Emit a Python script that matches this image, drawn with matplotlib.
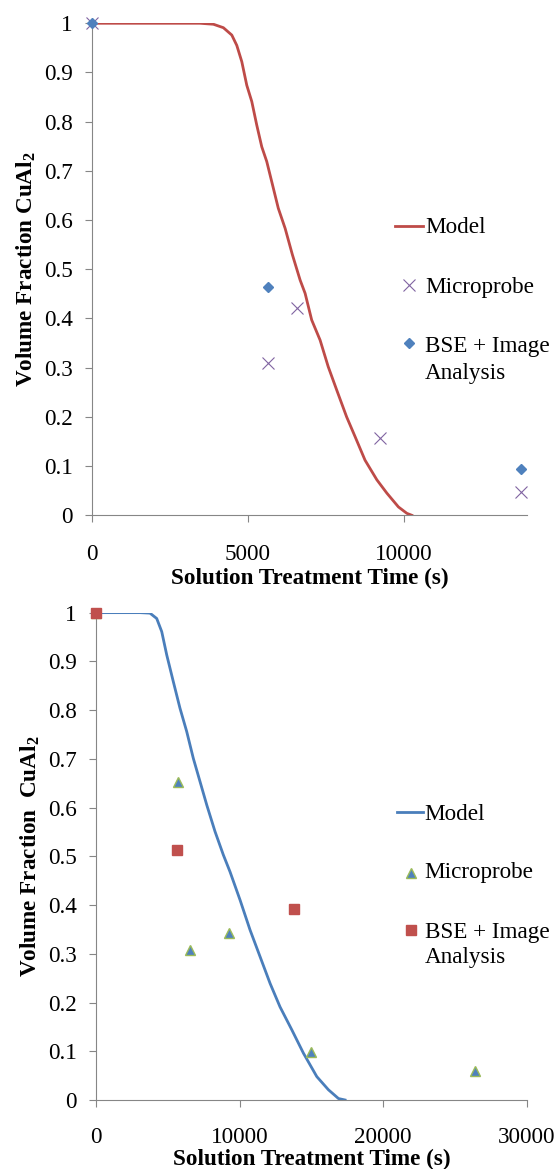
import matplotlib
matplotlib.use("Agg")
import matplotlib.pyplot as plt

# ---- data (time in s, volume fraction CuAl2) ----
top_model_t = [0, 3460, 3890, 4210, 4480, 4640, 4800, 4960, 5120, 5280, 5440,
               5600, 5760, 5970, 6190, 6420, 6670, 6830, 7040, 7310, 7570, 7840,
               8160, 8430, 8750, 9130, 9450, 9820, 10090, 10250]
top_model_f = [1.0, 1.0, 0.998, 0.991, 0.976, 0.955, 0.922, 0.874, 0.841, 0.793,
               0.749, 0.719, 0.678, 0.624, 0.583, 0.53, 0.478, 0.451, 0.397, 0.356,
               0.302, 0.255, 0.200, 0.160, 0.112, 0.072, 0.045, 0.017, 0.004, 0.0]
top_micro_t = [0, 5650, 6560, 9230, 13740]
top_micro_f = [1.0, 0.309, 0.421, 0.157, 0.048]
top_bse_t = [0, 5650, 13740]
top_bse_f = [1.0, 0.463, 0.094]

bot_model_t = [0, 3070, 3760, 4230, 4580, 4930, 5390, 5850, 6320, 6780, 7250,
               7720, 8290, 8870, 9340, 10040, 10730, 11430, 12130, 12820, 13640,
               14450, 15380, 16190, 16890, 17350]
bot_model_f = [1.0, 1.0, 0.999, 0.988, 0.961, 0.913, 0.858, 0.804, 0.756, 0.701,
               0.653, 0.605, 0.551, 0.503, 0.468, 0.410, 0.349, 0.294, 0.239, 0.191,
               0.144, 0.096, 0.048, 0.021, 0.003, 0.0]
bot_micro_t = [0, 5690, 6550, 9290, 14980, 26410]
bot_micro_f = [1.0, 0.652, 0.308, 0.342, 0.099, 0.060]
bot_bse_t = [0, 5620, 13800]
bot_bse_f = [1.0, 0.513, 0.391]

y_ticks = [0, 0.1, 0.2, 0.3, 0.4, 0.5, 0.6, 0.7, 0.8, 0.9, 1]
y_tick_labels = ["0", "0.1", "0.2", "0.3", "0.4", "0.5", "0.6", "0.7", "0.8", "0.9", "1"]
top_x_ticks = [0, 5000, 10000]
bot_x_ticks = [0, 10000, 20000, 30000]

legend_labels = ["Model", "Microprobe", "BSE + Image", "Analysis"]

plt.rcParams["font.family"] = ["Liberation Serif", "DejaVu Serif"]
plt.rcParams["mathtext.fontset"] = "custom"
plt.rcParams["mathtext.rm"] = "Liberation Serif"
plt.rcParams["mathtext.bf"] = "Liberation Serif:bold"

FS = 16.7
GREY = "#868686"


def style_axes(ax, xmax, xticks, ylabel, xpad, xlabelpad):
    ax.set_xlim(0, xmax)
    ax.set_ylim(0, 1)
    for side in ("top", "right"):
        ax.spines[side].set_visible(False)
    for side in ("left", "bottom"):
        ax.spines[side].set_color(GREY)
        ax.spines[side].set_linewidth(0.8)
    ax.set_yticks(y_ticks)
    ax.set_yticklabels(y_tick_labels)
    ax.set_xticks(xticks)
    ax.set_xticklabels([str(t) for t in xticks])
    ax.tick_params(axis="y", direction="out", length=5, width=0.8, color=GREY,
                   labelsize=FS, pad=9)
    ax.tick_params(axis="x", direction="out", length=5, width=0.8, color=GREY,
                   labelsize=FS, pad=xpad)
    ax.set_xlabel("Solution Treatment Time (s)", fontsize=FS, fontweight="bold",
                  labelpad=xlabelpad)
    ax.set_ylabel(ylabel, fontsize=FS, fontweight="bold", labelpad=4)


def legend_texts(ax, x, ys):
    for y, lab in zip(ys, legend_labels):
        ax.text(x, y, lab, transform=ax.transAxes, fontsize=FS, ha="left",
                va="baseline")


fig = plt.figure(figsize=(5.58, 11.69), dpi=100)

# ---------------- top panel ----------------
ax1 = fig.add_axes([0.1649, 0.5592, 0.7795, 0.4209])
ax1.plot(top_model_t, top_model_f, color="#BE4B48", lw=2.0, zorder=2)
ax1.plot(top_micro_t, top_micro_f, ls="none", marker="x", ms=8, mew=0.8,
         color="#8064A2", clip_on=False, zorder=3)
ax1.plot(top_bse_t, top_bse_f, ls="none", marker="D", ms=5.5, color="#4F81BD",
         clip_on=False, zorder=4)
style_axes(ax1, 13940, top_x_ticks, r"Volume Fraction CuAl$_{\mathbf{2}}$", 15.5, 2.5)

# legend drawn by hand so the marker sits on the first line of the two-line label
ax1.plot([0.6966, 0.761], [0.5886, 0.5886], color="#BE4B48", lw=2.0,
         transform=ax1.transAxes, clip_on=False)
ax1.plot([0.7287], [0.4681], ls="none", marker="x", ms=8, mew=0.8, color="#8064A2",
         transform=ax1.transAxes, clip_on=False)
ax1.plot([0.7287], [0.3496], ls="none", marker="D", ms=5.5, color="#4F81BD",
         transform=ax1.transAxes, clip_on=False)
legend_texts(ax1, 0.7655, [0.5732, 0.4512, 0.3325, 0.277])

# ---------------- bottom panel ----------------
ax2 = fig.add_axes([0.172, 0.05903, 0.7719, 0.4169])
ax2.plot(bot_model_t, bot_model_f, color="#4A7EBB", lw=2.0, zorder=2)
ax2.plot(bot_micro_t, bot_micro_f, ls="none", marker="^", ms=7.5, mew=1.0,
         markerfacecolor="#4F81BD", markeredgecolor="#9BBB59", clip_on=False, zorder=3)
ax2.plot(bot_bse_t, bot_bse_f, ls="none", marker="s", ms=7, color="#C0504D",
         clip_on=False, zorder=4)
style_axes(ax2, 30000, bot_x_ticks, r"Volume Fraction  CuAl$_{\mathbf{2}}$", 14.5, 0.5)

ax2.plot([0.698, 0.759], [0.5916, 0.5916], color="#4A7EBB", lw=2.0,
         transform=ax2.transAxes, clip_on=False)
ax2.plot([0.7307], [0.4665], ls="none", marker="^", ms=7.5, mew=1.0,
         markerfacecolor="#4F81BD", markeredgecolor="#9BBB59",
         transform=ax2.transAxes, clip_on=False)
ax2.plot([0.7307], [0.3489], ls="none", marker="s", ms=7, color="#C0504D",
         transform=ax2.transAxes, clip_on=False)
legend_texts(ax2, 0.7634, [0.5746, 0.4549, 0.3318, 0.2805])

fig.savefig("out.png", dpi=100)
plt.close(fig)
